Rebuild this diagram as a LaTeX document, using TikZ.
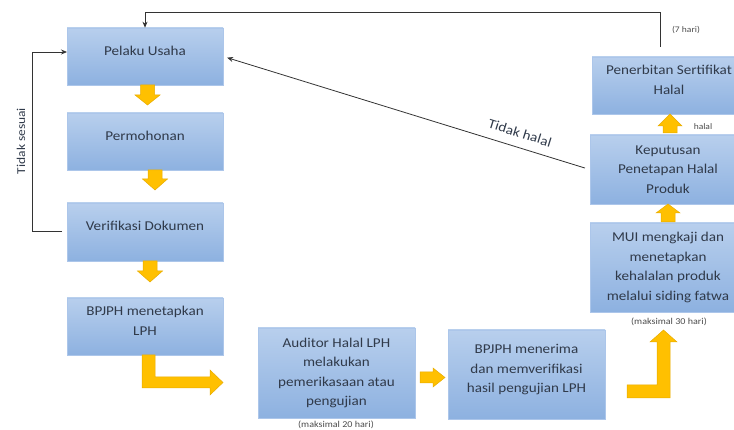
\documentclass[tikz,border=0pt]{standalone}
\usepackage{fontspec}
\setmainfont{Carlito}[FakeStretch=1.12]
\usetikzlibrary{arrows.meta,calc}
\definecolor{txt}{RGB}{48,58,74}
\definecolor{boxtop}{RGB}{184,207,237}
\definecolor{boxbot}{RGB}{141,177,224}
\definecolor{boxedge}{RGB}{172,198,234}
\definecolor{blkfill}{RGB}{255,192,0}
\definecolor{blkedge}{RGB}{232,172,0}
\newcommand\rtext[1]{\raisebox{5pt}[\height][\depth]{\begin{tabular}{@{}c@{}}#1\end{tabular}}}
\begin{document}
\begin{tikzpicture}[x=1pt,y=-1pt,
  stage/.style={draw=boxedge,line width=0.6pt,top color=boxtop,bottom color=boxbot,
    text=txt,align=center,inner sep=2pt,font=\fontsize{13.5}{19.5}\selectfont},
  blk/.style={fill=blkfill,draw=blkedge,line width=0.5pt,line join=miter},
  conn/.style={draw=black!80,line width=0.8pt,-{Stealth[length=6pt,width=5pt]}},
  note/.style={text=black!70,font=\fontsize{9}{11}\selectfont,inner sep=0pt}]
\useasboundingbox (0,0) rectangle (734,430);
\clip (0,0) rectangle (734,430);

% boxes
\node[stage,minimum width=156pt,minimum height=57pt] (pelaku) at (145,56.5) {\rtext{Pelaku Usaha}};
\node[stage,minimum width=156pt,minimum height=57pt] (permohonan) at (145,141.5) {\rtext{Permohonan}};
\node[stage,minimum width=156pt,minimum height=58pt] (verifikasi) at (145,232) {\rtext{Verifikasi Dokumen}};
\node[stage,minimum width=156pt,minimum height=57pt] (bpjph1) at (145,326.5) {\rtext{BPJPH menetapkan\\LPH}};
\node[stage,minimum width=157pt,minimum height=90pt] (auditor) at (336.5,373) {Auditor Halal LPH\\melakukan\\pemerikasaan atau\\pengujian};
\node[stage,minimum width=157pt,minimum height=89pt] (bpjph2) at (526.5,374.5) {\rtext{BPJPH menerima\\dan memverifikasi\\hasil pengujian LPH}};
\node[stage,minimum width=156pt,minimum height=89pt] (mui) at (668,267.5) {MUI mengkaji dan\\menetapkan\\kehalalan produk\\melalui siding fatwa};
\node[stage,minimum width=156pt,minimum height=69pt] (keputusan) at (668,169.5) {Keputusan\\Penetapan Halal\\Produk};
\node[stage,minimum width=154pt,minimum height=57pt] (penerbitan) at (669,85.5) {\rtext{Penerbitan Sertifikat\\Halal}};

% notes
\node[note] (n20) at (336,425) {(maksimal 20 hari)};
\node[note] (n30) at (669,322) {(maksimal 30 hari)};
\node[note,font=\fontsize{8.5}{10}\selectfont] (n7) at (686,30) {(7 hari)};
\node[note,font=\fontsize{8.5}{10}\selectfont] (nhalal) at (703,127) {halal};

% block arrows (down)
\newcommand\downarr[4]{\draw[blk] (#1-7,#2) -- (#1+7,#2) -- (#1+7,#4) -- (#1+12.5,#4) -- (#1,#3) -- (#1-12.5,#4) -- (#1-7,#4) -- cycle;}
\newcommand\uparr[4]{\draw[blk] (#1-7,#2) -- (#1+7,#2) -- (#1+7,#4) -- (#1+12,#4) -- (#1,#3) -- (#1-12,#4) -- (#1-7,#4) -- cycle;}
\downarr{147.5}{85}{105}{95}
\downarr{155}{170}{190}{179}
\downarr{150}{261}{282}{271}
\uparr{670}{133}{114}{126}
\uparr{668}{222}{204}{213}
% right arrow
\draw[blk] (420,372) -- (433,372) -- (433,368) -- (445,377.5) -- (433,387) -- (433,383) -- (420,383) -- cycle;
% L arrows
\draw[blk] (142,355) -- (155,355) -- (155,377) -- (210,377) -- (210,370) -- (223,382.5) -- (210,395) -- (210,388) -- (142,388) -- cycle;
\draw[blk] (627,385) -- (657,385) -- (657,342) -- (650,342) -- (663.5,330) -- (677,342) -- (670,342) -- (670,398) -- (627,398) -- cycle;

% connectors
\coordinate (c7) at (660,47);
\coordinate (c7top) at (660,12);
\draw[conn] (c7) -- (c7top) -| (pelaku.north);
\coordinate (ts1) at (62,231);
\coordinate (ts2) at (32,231);
\coordinate (ts3) at (32,52);
\coordinate (ts4) at (67,52);
\draw[conn] (ts1) -- (ts2) -- (ts3) -- (ts4);
\node[text=txt,rotate=90,font=\fontsize{12}{14}\selectfont] (tslabel) at (21,141) {Tidak sesuai};
\draw[conn,shorten <=5pt,shorten >=4pt] (keputusan.west) -- (pelaku.east);
\node[text=txt,rotate=-17.4,font=\fontsize{13.5}{16}\selectfont] (thlabel) at (520,133) {Tidak halal};
\end{tikzpicture}
\end{document}
